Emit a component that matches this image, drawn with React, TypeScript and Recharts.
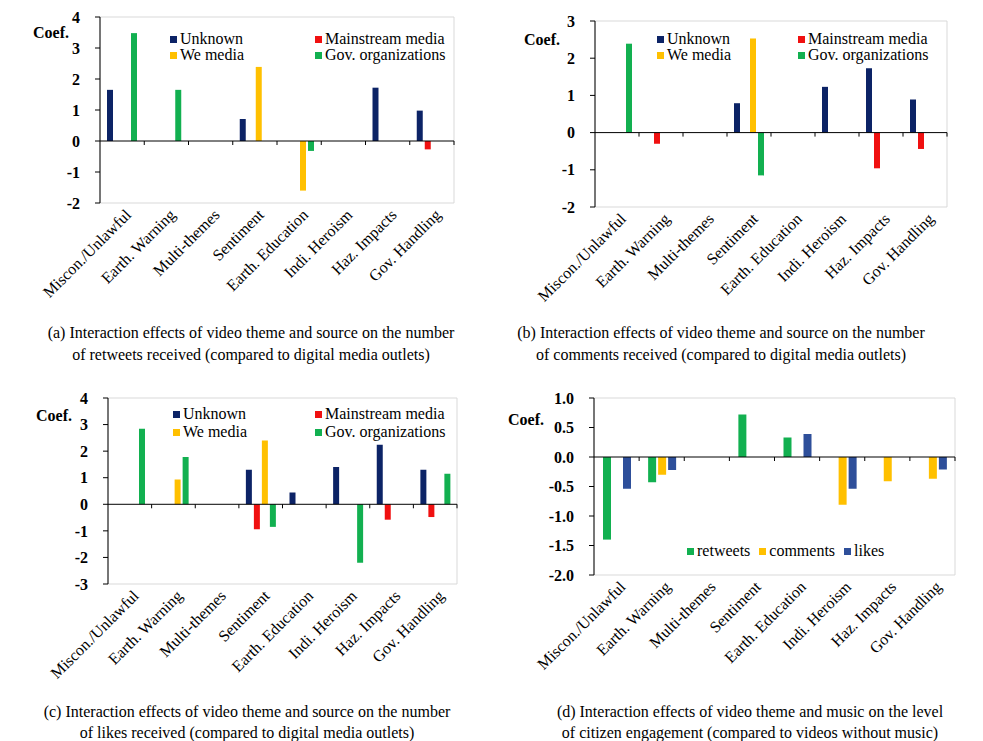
import React from 'react';
import { BarChart, Bar, XAxis, YAxis, ReferenceLine, ReferenceArea, Legend } from 'recharts';

const themes = ['Miscon./Unlawful', 'Earth. Warning', 'Multi-themes', 'Sentiment', 'Earth. Education', 'Indi. Heroism', 'Haz. Impacts', 'Gov. Handling'];

// (a) retweets by source
const retweetsUnknown = [1.65, null, null, 0.71, null, null, 1.72, 0.98];
const retweetsMainstream = [null, null, null, null, null, null, null, -0.27];
const retweetsWeMedia = [null, null, null, 2.39, -1.6, null, null, null];
const retweetsGov = [3.48, 1.65, null, null, -0.32, null, null, null];

// (b) comments by source
const commentsUnknown = [null, null, null, 0.79, null, 1.23, 1.73, 0.89];
const commentsMainstream = [null, -0.3, null, null, null, null, -0.96, -0.44];
const commentsWeMedia = [null, null, null, 2.53, null, null, null, null];
const commentsGov = [2.39, null, null, -1.15, null, null, null, null];

// (c) likes by source
const likesUnknown = [null, null, null, 1.3, 0.44, 1.4, 2.24, 1.3];
const likesMainstream = [null, null, null, -0.94, null, null, -0.58, -0.48];
const likesWeMedia = [null, 0.93, null, 2.4, null, null, null, null];
const likesGov = [2.84, 1.78, null, -0.85, null, -2.2, null, 1.15];

// (d) music x engagement
const musicRetweets = [-1.4, -0.43, null, 0.72, 0.33, null, null, null];
const musicComments = [null, -0.3, null, null, null, -0.81, -0.41, -0.37];
const musicLikes = [-0.54, -0.22, null, null, 0.39, -0.54, null, -0.21];

const ticksA = [-2, -1, 0, 1, 2, 3, 4];
const ticksB = [-2, -1, 0, 1, 2, 3];
const ticksC = [-3, -2, -1, 0, 1, 2, 3, 4];
const ticksD = [-2, -1.5, -1, -0.5, 0, 0.5, 1];

const FONT = '"Liberation Serif", "Times New Roman", serif';
const NAVY = '#0c2366';
const RED = '#f01010';
const GOLD = '#ffc000';
const GREEN = '#12b050';
const BLUE = '#2e4f9a';

const sourceSeries = [
  { key: 'unknown', name: 'Unknown', color: NAVY },
  { key: 'mainstream', name: 'Mainstream media', color: RED },
  { key: 'we', name: 'We media', color: GOLD },
  { key: 'gov', name: 'Gov. organizations', color: GREEN },
];
const musicSeries = [
  { key: 'retweets', name: 'retweets', color: GREEN },
  { key: 'comments', name: 'comments', color: GOLD },
  { key: 'likes', name: 'likes', color: BLUE },
];

const buildSource = (u, m, w, g) =>
  themes.map((theme, i) => ({ theme, unknown: u[i], mainstream: m[i], we: w[i], gov: g[i] }));

const dataA = buildSource(retweetsUnknown, retweetsMainstream, retweetsWeMedia, retweetsGov);
const dataB = buildSource(commentsUnknown, commentsMainstream, commentsWeMedia, commentsGov);
const dataC = buildSource(likesUnknown, likesMainstream, likesWeMedia, likesGov);
const dataD = themes.map((theme, i) => ({ theme, retweets: musicRetweets[i], comments: musicComments[i], likes: musicLikes[i] }));

const ThemeTick = ({ x, y, payload }) => {
  const ax = x + 6;
  const ay = y + 9;
  return (
    <text x={ax} y={ay} dy="0.35em" textAnchor="end" transform={`rotate(-45, ${ax}, ${ay})`}
      fontSize={16} fontFamily={FONT} fill="#000">
      {payload.value}
    </text>
  );
};

// zero line with little tick marks between the categories
const zeroLine = (n) => (props) => {
  const { x1, y1, x2 } = props;
  const step = (x2 - x1) / n;
  const marks = [];
  for (let i = 1; i <= n; i++) {
    const xx = x1 + step * i;
    marks.push(<line key={i} x1={xx} x2={xx} y1={y1} y2={y1 + 4} stroke="#000" strokeWidth={1} />);
  }
  return (
    <g>
      <line x1={x1} x2={x2} y1={y1} y2={y1} stroke="#000" strokeWidth={1} />
      {marks}
    </g>
  );
};

const gridLegend = (series, colWidth, rowH, cols, gapRight) => ({ payload }) => {
  const order = series.map((s) => s.name);
  const items = [...(payload || [])].sort((a, b) => order.indexOf(a.value) - order.indexOf(b.value));
  return (
    <div style={{ display: 'grid', gridTemplateColumns: `repeat(${cols}, auto)`, justifyContent: 'start', fontFamily: FONT, fontSize: 16, lineHeight: `${rowH}px`, color: '#000' }}>
      {items.map((p) => (
        <div key={p.value} style={{ display: 'flex', alignItems: 'center', height: rowH, minWidth: colWidth, marginRight: gapRight, whiteSpace: 'nowrap' }}>
          <span style={{ width: 7, height: 7, background: p.color, marginRight: 3, display: 'inline-block' }} />
          {p.value}
        </div>
      ))}
    </div>
  );
};

function Panel({ left, top, margin, data, series, domain, ticks, fmt, barSize, barGap, legendStyle, legendContent }) {
  return (
    <div style={{ position: 'absolute', left, top }}>
      <BarChart width={475} height={310} data={data} margin={margin} barSize={barSize} barGap={barGap}>
        <ReferenceArea y1={domain[0]} y2={domain[1]} fill="none" stroke="#d9d9d9" ifOverflow="visible" />
        <XAxis dataKey="theme" axisLine={false} tickLine={false} tickSize={0} tickMargin={0} interval={0} height={100} tick={<ThemeTick />} />
        <YAxis domain={domain} ticks={ticks} width={60} interval={0} allowDataOverflow
          axisLine={{ stroke: '#000' }} tickLine={{ stroke: '#000' }} tickSize={5} tickMargin={15}
          tickFormatter={fmt}
          tick={{ fill: '#000', fontSize: 16, fontWeight: 'bold', fontFamily: FONT }} />
        <ReferenceLine y={0} shape={zeroLine(themes.length)} />
        {series.map((s) => (
          <Bar key={s.key} dataKey={s.key} name={s.name} fill={s.color} isAnimationActive={false} />
        ))}
        <Legend layout="horizontal" verticalAlign="middle" align="center" wrapperStyle={legendStyle} content={legendContent} />
      </BarChart>
    </div>
  );
}

const coefStyle = { position: 'absolute', fontFamily: FONT, fontSize: 16, fontWeight: 'bold', lineHeight: '18px' };
const capStyle = { position: 'absolute', width: 520, textAlign: 'center', fontFamily: FONT, fontSize: 16, color: '#000', whiteSpace: 'nowrap' };

export default function App() {
  return (
    <div style={{ position: 'absolute', left: 0, top: 0, width: 983, height: 741, background: '#fff', overflow: 'hidden' }}>
      <Panel left={0} top={0} margin={{ top: 17, right: 21, left: 40, bottom: 7 }} data={dataA} series={sourceSeries}
        domain={[-2, 4]} ticks={ticksA} fmt={(v) => String(v)} barSize={6} barGap={2}
        legendStyle={{ left: 170, top: 31, width: 300 }} legendContent={gridLegend(sourceSeries, 145, 16, 2, 0)} />
      <Panel left={490} top={0} margin={{ top: 21, right: 18, left: 45, bottom: 3 }} data={dataB} series={sourceSeries}
        domain={[-2, 3]} ticks={ticksB} fmt={(v) => String(v)} barSize={6} barGap={2}
        legendStyle={{ left: 167, top: 31, width: 300 }} legendContent={gridLegend(sourceSeries, 141, 16, 2, 0)} />
      <Panel left={0} top={380} margin={{ top: 18, right: 18, left: 48, bottom: 6 }} data={dataC} series={sourceSeries}
        domain={[-3, 4]} ticks={ticksC} fmt={(v) => String(v)} barSize={6} barGap={2}
        legendStyle={{ left: 173, top: 25, width: 300 }} legendContent={gridLegend(sourceSeries, 142, 18, 2, 0)} />
      <Panel left={490} top={380} margin={{ top: 18, right: 10, left: 44, bottom: 15 }} data={dataD} series={musicSeries}
        domain={[-2, 1]} ticks={ticksD} fmt={(v) => v.toFixed(1)} barSize={8} barGap={2}
        legendStyle={{ left: 197, top: 162, width: 260 }} legendContent={gridLegend(musicSeries, 0, 18, 3, 9)} />

      <div style={{ ...coefStyle, left: 33, top: 24 }}>Coef.</div>
      <div style={{ ...coefStyle, left: 524, top: 31 }}>Coef.</div>
      <div style={{ ...coefStyle, left: 36, top: 407 }}>Coef.</div>
      <div style={{ ...coefStyle, left: 508, top: 411 }}>Coef.</div>

      <div style={{ ...capStyle, left: 251 - 260, top: 322, lineHeight: '22px' }}>
        (a) Interaction effects of video theme and source on the number<br />of retweets received (compared to digital media outlets)
      </div>
      <div style={{ ...capStyle, left: 721 - 260, top: 322, lineHeight: '22px' }}>
        (b) Interaction effects of video theme and source on the number<br />of comments received (compared to digital media outlets)
      </div>
      <div style={{ ...capStyle, left: 247 - 260, top: 701, lineHeight: '21px' }}>
        (c) Interaction effects of video theme and source on the number<br />of likes received (compared to digital media outlets)
      </div>
      <div style={{ ...capStyle, left: 750 - 260, top: 701, lineHeight: '21px' }}>
        (d) Interaction effects of video theme and music on the level<br />of citizen engagement (compared to videos without music)
      </div>
    </div>
  );
}
